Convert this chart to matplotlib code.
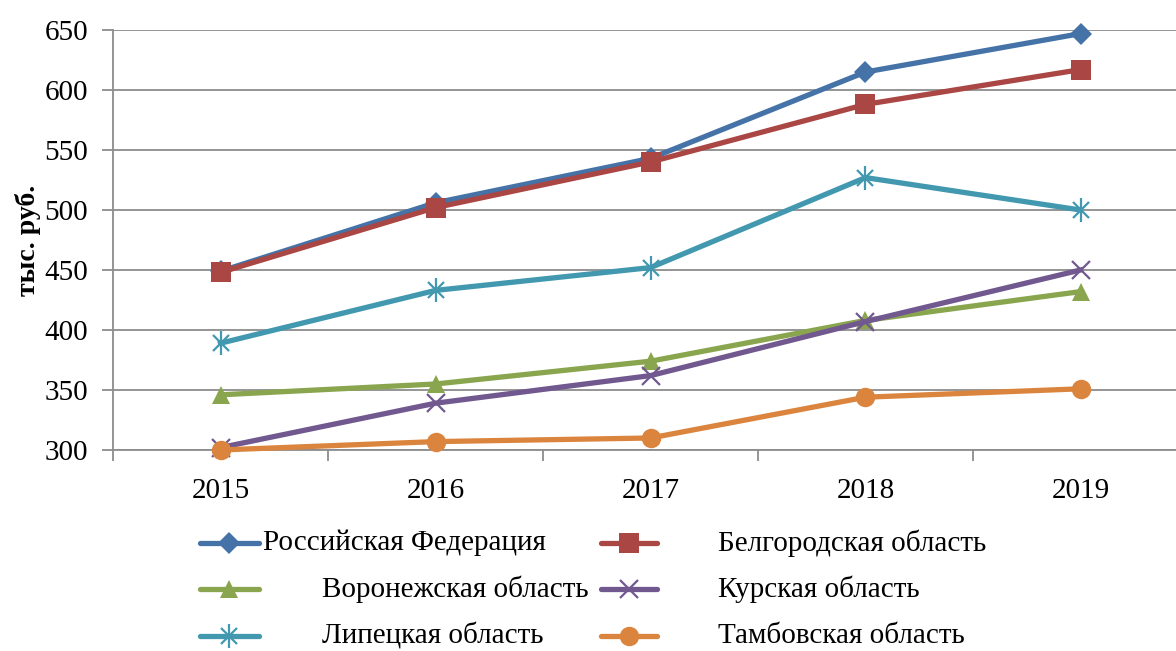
import matplotlib
matplotlib.use("Agg")
import matplotlib.pyplot as plt
from matplotlib.lines import Line2D

plt.rcParams['font.family'] = ['Liberation Serif', 'DejaVu Serif']

years = ['2015', '2016', '2017', '2018', '2019']
rf = [449, 506, 543, 615, 647]
belgorod = [448, 502, 540, 588, 617]
voronezh = [346, 355, 374, 408, 432]
kursk = [302, 339, 362, 407, 450]
lipetsk = [389, 433, 452, 527, 500]
tambov = [300, 307, 310, 344, 351]

names = ['Российская Федерация', 'Белгородская область', 'Воронежская область',
         'Курская область', 'Липецкая область', 'Тамбовская область']
series = [rf, belgorod, voronezh, kursk, lipetsk, tambov]
colors = ['#4572A7', '#AA4643', '#89A54E', '#71588F', '#4198AF', '#DB843D']
markers = ['D', 's', '^', 'x', 'x', 'o']
msizes = [11, 14, 13, 13, 12, 14]

fig = plt.figure(figsize=(11.76, 6.51), dpi=100)
ax = fig.add_axes([113/1176, 201/651, 1075/1176, 420/651])

x = range(len(years))
# порядок отрисовки: нижние сначала
order = [5, 3, 2, 4, 1, 0]
for i in order:
    m = markers[i]
    ax.plot(x, series[i], color=colors[i], lw=3.8, marker=m, ms=msizes[i],
            mew=1.6 if m == 'x' else 0, mec=colors[i], mfc=colors[i],
            zorder=3 + i * 0.1, clip_on=False)
    if i == 4:
        # звездочка excel: x плюс вертикальная черта
        ax.plot(x, series[i], ls='none', marker='|', ms=17, mew=1.6,
                color=colors[i], zorder=3 + i * 0.1, clip_on=False)

ax.set_xlim(-0.5, 4.5)
ax.set_ylim(300, 650)
ax.set_yticks(range(300, 651, 50))
ax.set_xticks(list(x))
ax.set_xticklabels(years)
ax.set_xticks([k - 0.5 for k in range(6)], minor=True)
ax.grid(axis='y', color='#8C8C8C', lw=1.3)
ax.set_axisbelow(True)
for s in ['top', 'right']:
    ax.spines[s].set_visible(False)
for s in ['left', 'bottom']:
    ax.spines[s].set_color('#8C8C8C')
    ax.spines[s].set_linewidth(1.3)
ax.tick_params(axis='y', length=8, width=1.3, color='#8C8C8C', labelsize=21, pad=10)
ax.tick_params(axis='x', which='major', length=0, labelsize=21, pad=20)
ax.tick_params(axis='x', which='minor', length=8, width=1.3, color='#8C8C8C')
ax.set_ylabel('тыс. руб.', fontsize=20, fontweight='bold', labelpad=2)

# легенда вручную, как в excel
rows = [543, 589, 636]
hx = [(200, 259), (601, 657)]
tx = [[263, 322, 322], [718, 718, 718]]
for k in range(6):
    col, row = k % 2, k // 2
    y = 1 - rows[row] / 651
    x0, x1 = hx[col][0] / 1176, hx[col][1] / 1176
    fig.add_artist(Line2D([x0, x1], [y, y], color=colors[k], lw=3.8,
                          solid_capstyle='round', transform=fig.transFigure))
    m = markers[k]
    fig.add_artist(Line2D([(x0 + x1) / 2], [y], color=colors[k], marker=m,
                          ms=msizes[k], mew=1.6 if m == 'x' else 0,
                          mfc=colors[k], mec=colors[k], transform=fig.transFigure))
    if k == 4:
        fig.add_artist(Line2D([(x0 + x1) / 2], [y], color=colors[k], marker='|',
                              ms=17, mew=1.6, transform=fig.transFigure))
    fig.text(tx[col][row] / 1176, y, names[k], fontsize=21, va='center', ha='left')

fig.savefig('out.png', dpi=100)
